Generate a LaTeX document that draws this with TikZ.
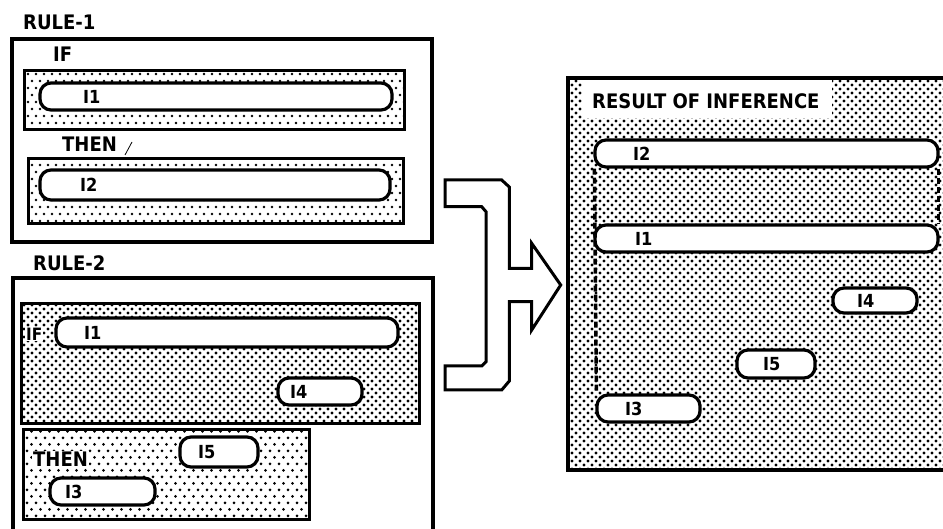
\documentclass[tikz,border=0pt]{standalone}
\usepackage{fontspec}
\setmainfont{DejaVu Sans Condensed}
\usetikzlibrary{patterns}
\pgfdeclarepatternformonly{stipA}{\pgfqpoint{-1.8pt}{-1.8pt}}{\pgfqpoint{5.8pt}{5.8pt}}{\pgfqpoint{8pt}{8pt}}{%
  \pgfpathcircle{\pgfqpoint{0pt}{0pt}}{1.6pt}%
  \pgfpathcircle{\pgfqpoint{4pt}{4pt}}{1.6pt}%
  \pgfusepath{fill}}
\pgfdeclarepatternformonly{stipB}{\pgfqpoint{-1.6pt}{-1.6pt}}{\pgfqpoint{5.6pt}{8.6pt}}{\pgfqpoint{8pt}{14pt}}{%
  \pgfpathcircle{\pgfqpoint{0pt}{0pt}}{1.4pt}%
  \pgfpathcircle{\pgfqpoint{4pt}{7pt}}{1.4pt}%
  \pgfusepath{fill}}
\pgfdeclarepatternformonly{stipC}{\pgfqpoint{-1.7pt}{-1.7pt}}{\pgfqpoint{6.2pt}{8.2pt}}{\pgfqpoint{9pt}{13pt}}{%
  \pgfpathcircle{\pgfqpoint{0pt}{0pt}}{1.5pt}%
  \pgfpathcircle{\pgfqpoint{4.5pt}{6.5pt}}{1.5pt}%
  \pgfusepath{fill}}
\tikzset{
  outerbox/.style={draw, line width=4pt, inner sep=0pt},
  stipbox/.style={draw, line width=3.2pt, inner sep=0pt, anchor=north west},
  pill/.style={draw, line width=3.2pt, fill=white, rounded corners=11pt,
    inner ysep=0pt, align=left, font=\bfseries\fontsize{18}{20}\selectfont},
  lbl/.style={font=\bfseries\fontsize{20}{24}\selectfont, inner sep=0pt, anchor=west},
  dashline/.style={line width=3.5pt, dash pattern=on 6pt off 3pt},
}
\begin{document}
\begin{tikzpicture}[x=1pt,y=-1pt]
\useasboundingbox (0,0) rectangle (943,529);
\fill[white] (0,0) rectangle (943,529);

% ---------- RULE-1 ----------
\node[lbl] (r1lbl) at (23,22.5) {RULE-1};
\node[outerbox, anchor=north west, minimum width=420pt, minimum height=203pt] (rule1) at (10,37) {};
\node[lbl] (r1if) at (53,54.5) {IF};
\node[stipbox, pattern=stipB, minimum width=380pt, minimum height=59pt] (r1ifbox) at (23,69) {};
\node[pill, minimum width=352pt, minimum height=27pt, inner xsep=43pt, text width=266pt] (r1i1) at (216,96.5) {I1};
\node[lbl] (r1then) at (62,144.5) {THEN};
\draw[line width=0.8pt] (125,155) -- (132,142);
\node[stipbox, pattern=stipB, minimum width=375pt, minimum height=65pt] (r1thenbox) at (27,157) {};
\node[pill, minimum width=350pt, minimum height=30pt, inner xsep=40pt, text width=270pt] (r1i2) at (215,185) {I2};

% ---------- RULE-2 ----------
\node[lbl] (r2lbl) at (33,263.5) {RULE-2};
\draw[line width=4pt] (13,535) -- (13,278) -- (433,278) -- (433,535);
\node[stipbox, pattern=stipA, minimum width=398pt, minimum height=120pt] (r2ifbox) at (20,302) {};
\node[lbl, font=\bfseries\fontsize{17}{20}\selectfont, fill=white, inner sep=1pt] (r2if) at (25,334) {IF};
\node[pill, minimum width=342pt, minimum height=29pt, inner xsep=28pt, text width=286pt] (r2i1) at (227,332.5) {I1};
\node[pill, minimum width=84pt, minimum height=27pt, inner xsep=12pt, text width=60pt] (r2i4) at (320,391.5) {I4};
\node[stipbox, pattern=stipC, minimum width=286pt, minimum height=90pt] (r2thenbox) at (22,428) {};
\node[lbl, fill=white, inner sep=1pt] (r2then) at (32,459.5) {THEN};
\node[pill, minimum width=78pt, minimum height=30pt, inner xsep=18pt, text width=42pt] (r2i5) at (219,452) {I5};
\node[pill, minimum width=105pt, minimum height=27pt, inner xsep=15pt, text width=75pt] (r2i3) at (102.5,491.5) {I3};

% ---------- arrow ----------
\draw[line width=3pt, line join=miter, fill=white]
  (445,180) -- (501.7,180) -- (509.3,187) -- (509.3,268.3) -- (531.7,268.3)
  -- (531.7,243.3) -- (560.7,285) -- (531.7,330) -- (531.7,301.7) -- (509.3,301.7)
  -- (509.3,381) -- (501.7,390) -- (445,390) -- (445,366) -- (481.7,366)
  -- (486,361.7) -- (486,211.7) -- (481.7,206.7) -- (445,206.7) -- cycle;

% ---------- RESULT ----------
\fill[pattern=stipA] (568,78) rectangle (950,470);
\draw[line width=4pt] (950,78) -- (568,78) -- (568,470) -- (950,470);
\fill[white] (582,80) rectangle (832,118);
\node[lbl, font=\bfseries\fontsize{20}{24}\selectfont] (reslbl) at (592,101.5) {RESULT OF INFERENCE};
\node[pill, minimum width=343pt, minimum height=27pt, inner xsep=38pt, text width=267pt] (ri2) at (766.5,153.5) {I2};
\node[pill, minimum width=343pt, minimum height=27pt, inner xsep=40pt, text width=263pt] (ri1) at (766.5,238.5) {I1};
\node[pill, minimum width=84pt, minimum height=25pt, inner xsep=24pt, text width=36pt] (ri4) at (875,300.5) {I4};
\node[pill, minimum width=78pt, minimum height=28pt, inner xsep=26pt, text width=26pt] (ri5) at (776,364) {I5};
\node[pill, minimum width=103pt, minimum height=27pt, inner xsep=28pt, text width=47pt] (ri3) at (648.5,408.5) {I3};
\draw[dashline] ([xshift=1pt]ri2.south west) -- ([xshift=1pt]ri3.north west);
\draw[dashline] ([xshift=-1pt]ri2.south east) -- ([xshift=-1pt]ri1.north east);
\end{tikzpicture}
\end{document}
